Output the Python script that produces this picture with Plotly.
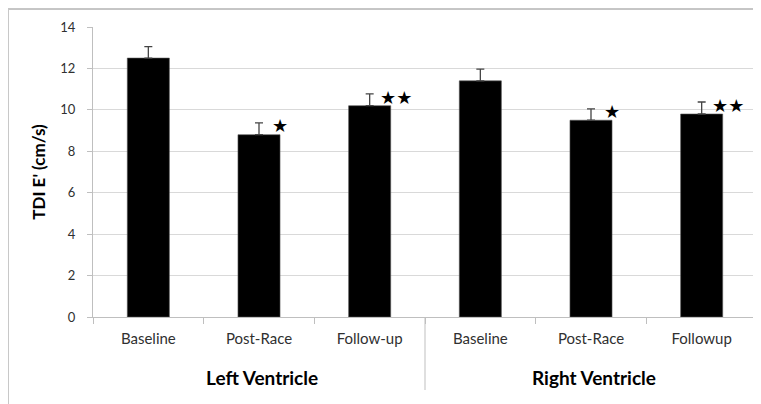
import plotly.graph_objects as go

# ---- data ----
groups = ["Left Ventricle", "Right Ventricle"]
phases_lv = ["Baseline", "Post-Race", "Follow-up"]
phases_rv = ["Baseline", "Post-Race", "Followup"]
lv_values = [12.5, 8.8, 10.2]
rv_values = [11.4, 9.5, 9.8]
lv_errors = [0.55, 0.57, 0.57]
rv_errors = [0.57, 0.55, 0.58]
lv_stars = ["", "★", "★★"]
rv_stars = ["", "★", "★★"]
y_ticks = [0, 2, 4, 6, 8, 10, 12, 14]

# ---- build ----
cat_ids = [f"LV {p}" for p in phases_lv] + [f"RV {p}" for p in phases_rv]
labels = phases_lv + phases_rv
values = lv_values + rv_values
errors = lv_errors + rv_errors
stars = lv_stars + rv_stars

FONT = "Lato, 'Open Sans', sans-serif"

# figure geometry (page is offset 8px by body margin)
OFF = 8
W, H = 761 - OFF, 404 - OFF
ML, MR, MT, MB = 93 - OFF, 4, 27 - OFF, 87
PW, PH = W - ML - MR, H - MT - MB

def px_x(px):
    return (px - OFF - ML) / PW

def px_y(py):
    return (H - MB - (py - OFF)) / PH

fig = go.Figure()
fig.add_trace(go.Bar(
    x=cat_ids, y=values, width=0.38,
    marker=dict(color="black", line=dict(color="#555555", width=0.6)),
    error_y=dict(type="data", symmetric=False, array=errors,
                 arrayminus=[0] * len(errors), color="#444444",
                 thickness=1.3, width=4),
    showlegend=False,
))

annotations = []
for cid, v, e, s in zip(cat_ids, values, errors, stars):
    if s:
        annotations.append(dict(
            x=cid, y=v + e, xref="x", yref="y", text=s, showarrow=False,
            xanchor="left", yanchor="middle", xshift=11 if len(s) == 1 else 8,
            yshift=-3 if len(s) == 1 else -4,
            font=dict(family="DejaVu Sans", size=18, color="black"),
        ))

n_lv = len(phases_lv)
group_centers = [cat_ids[(n_lv - 1) // 2], cat_ids[n_lv + (len(phases_rv) - 1) // 2]]
for g, c in zip(groups, group_centers):
    annotations.append(dict(
        x=c, y=px_y(377), xref="x", yref="paper", text=f"<b>{g}</b>",
        showarrow=False, xanchor="center", yanchor="middle", xshift=3,
        font=dict(family=FONT, size=19, color="black"),
    ))

shapes = [
    # group separator
    dict(type="line", xref="x", yref="paper", x0=n_lv - 0.5, x1=n_lv - 0.5,
         y0=0, y1=px_y(390), line=dict(color="#bfbfbf", width=1)),
    # outer frame (top and left)
    dict(type="line", xref="paper", yref="paper", x0=px_x(8), x1=px_x(761),
         y0=px_y(9), y1=px_y(9), line=dict(color="#8c8c8c", width=1)),
    dict(type="line", xref="paper", yref="paper", x0=px_x(8.5), x1=px_x(8.5),
         y0=px_y(9), y1=px_y(404), line=dict(color="#c8c8c8", width=1)),
]

fig.update_layout(
    width=W, height=H,
    margin=dict(l=ML, r=MR, t=MT, b=MB),
    paper_bgcolor="white", plot_bgcolor="white",
    font=dict(family=FONT, color="#404040"),
    annotations=annotations,
    shapes=shapes,
)
fig.update_xaxes(
    type="category", tickmode="array", tickvals=cat_ids, ticktext=labels,
    tickson="boundaries", ticks="outside", ticklen=6, tickcolor="#bfbfbf",
    showline=True, linecolor="#bfbfbf", linewidth=1, showgrid=False,
    tickfont=dict(family=FONT, size=15, color="#303030"),
    ticklabelstandoff=8, range=[-0.5, len(cat_ids) - 0.5],
)
fig.update_yaxes(
    range=[0, 14], tickvals=y_ticks, ticks="outside", ticklen=5,
    tickcolor="#bfbfbf", showline=True, linecolor="#bfbfbf", linewidth=1,
    showgrid=True, gridcolor="#d9d9d9", gridwidth=1, zeroline=False,
    tickfont=dict(family=FONT, size=13, color="#303030"),
    ticklabelstandoff=9,
    title=dict(text="<b>TDI E' (cm/s)</b>", font=dict(family=FONT, size=17, color="black"), standoff=10),
)

fig.write_html("out.html")
